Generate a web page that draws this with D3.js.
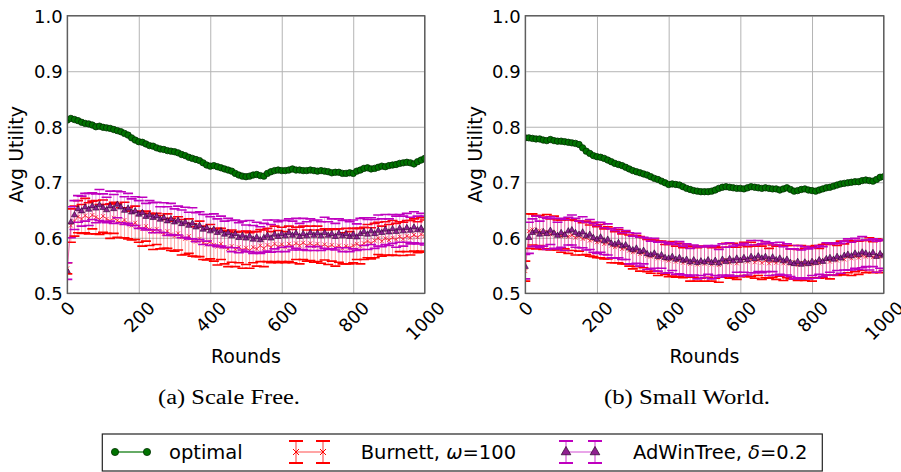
<!DOCTYPE html>
<html><head><meta charset="utf-8">
<script src="https://cdn.jsdelivr.net/npm/d3@7"></script>
<style>body{margin:0;background:#fff}svg{display:block}</style>
</head><body><svg id="c" width="901" height="472"></svg>
<script>
// ---------- DATA ----------
const rounds = d3.range(0, 1001, 10);
const yTicks = [0.5, 0.6, 0.7, 0.8, 0.9, 1.0];
const xTicks = [0, 200, 400, 600, 800, 1000];
const captions = ["(a) Scale Free.", "(b) Small World."];
const legendLabels = ["optimal", "Burnett, ", "AdWinTree, "];

// Scale Free
const sfOptimal = [
 .812,.815,.813,.811,.808,.806,.805,.803,.800,.801,
 .799,.798,.797,.795,.793,.791,.788,.785,.780,.776,
 .773,.772,.769,.766,.765,.762,.760,.759,.757,.756,
 .755,.753,.750,.748,.745,.743,.741,.739,.735,.731,
 .729,.730,.728,.726,.724,.722,.720,.716,.713,.711,
 .710,.711,.713,.714,.712,.711,.716,.719,.721,.722,
 .721,.721,.722,.724,.722,.722,.721,.721,.722,.721,
 .720,.721,.720,.719,.717,.718,.718,.716,.716,.717,
 .716,.720,.722,.725,.726,.724,.725,.727,.729,.728,
 .730,.731,.732,.734,.735,.736,.735,.733,.737,.740,
 .743];
const sfBurMean = [
 .545,.622,.630,.638,.634,.640,.635,.641,.637,.633,
 .639,.634,.630,.636,.631,.627,.632,.626,.622,.627,
 .620,.616,.621,.615,.611,.616,.610,.607,.612,.606,
 .603,.608,.601,.598,.603,.596,.593,.598,.591,.588,
 .593,.587,.584,.589,.583,.580,.585,.579,.583,.578,
 .582,.577,.583,.580,.586,.581,.587,.583,.589,.584,
 .588,.583,.589,.585,.590,.586,.591,.586,.590,.585,
 .589,.584,.588,.583,.587,.582,.586,.581,.585,.582,
 .586,.589,.585,.590,.594,.590,.595,.599,.594,.599,
 .596,.600,.597,.602,.598,.603,.600,.605,.601,.606,
 .603];
const sfBurErr = [
 .010,.030,.027,.029,.026,.031,.028,.025,.030,.027,
 .029,.026,.031,.028,.030,.027,.032,.028,.026,.030,
 .028,.031,.027,.029,.032,.028,.030,.026,.031,.029,
 .027,.030,.032,.028,.031,.029,.027,.032,.030,.028,
 .031,.029,.033,.028,.030,.032,.029,.031,.028,.033,
 .030,.032,.028,.031,.029,.033,.030,.028,.032,.029,
 .031,.028,.032,.030,.029,.033,.030,.028,.031,.029,
 .032,.030,.028,.031,.029,.033,.030,.028,.032,.029,
 .031,.028,.032,.029,.030,.028,.031,.029,.027,.030,
 .028,.031,.029,.027,.030,.028,.031,.029,.028,.030,
 .029];
const sfAdwMean = [
 .540,.628,.641,.652,.648,.655,.651,.657,.653,.659,
 .654,.650,.657,.652,.660,.655,.649,.653,.646,.648,
 .642,.645,.638,.641,.636,.639,.633,.636,.630,.634,
 .628,.631,.625,.628,.622,.626,.619,.622,.615,.618,
 .612,.615,.609,.612,.606,.609,.603,.607,.600,.604,
 .599,.603,.597,.601,.596,.600,.604,.599,.606,.602,
 .607,.603,.609,.604,.608,.602,.607,.603,.609,.604,
 .608,.603,.609,.604,.607,.602,.608,.603,.607,.602,
 .606,.601,.607,.611,.606,.612,.607,.613,.609,.615,
 .610,.616,.611,.617,.612,.618,.613,.619,.614,.617,
 .613];
const sfAdwErr = [
 .015,.028,.026,.024,.027,.025,.029,.024,.026,.028,
 .025,.023,.027,.026,.024,.028,.025,.027,.024,.026,
 .025,.028,.024,.026,.027,.025,.023,.027,.026,.028,
 .024,.026,.025,.027,.024,.028,.026,.025,.027,.024,
 .026,.028,.025,.027,.024,.026,.028,.025,.027,.026,
 .024,.028,.025,.027,.024,.026,.028,.025,.026,.027,
 .024,.028,.025,.026,.027,.024,.028,.026,.025,.027,
 .024,.026,.028,.025,.027,.024,.026,.028,.025,.027,
 .026,.024,.028,.025,.027,.024,.026,.028,.025,.027,
 .024,.026,.028,.025,.027,.026,.024,.028,.025,.027,
 .026];

// Small World
const swOptimal = [
 .780,.780,.779,.778,.778,.776,.775,.777,.775,.774,
 .774,.773,.772,.771,.770,.768,.762,.756,.752,.748,
 .746,.745,.743,.740,.737,.734,.732,.730,.727,.724,
 .721,.719,.717,.715,.713,.710,.707,.705,.702,.699,
 .696,.697,.696,.695,.692,.689,.687,.685,.684,.683,
 .683,.683,.684,.686,.689,.691,.692,.691,.690,.689,
 .689,.688,.690,.692,.691,.690,.689,.690,.689,.688,
 .688,.686,.688,.690,.687,.684,.685,.687,.688,.686,
 .685,.684,.686,.688,.690,.691,.693,.695,.697,.698,
 .699,.700,.701,.701,.703,.704,.703,.702,.705,.709,
 .710];
const swBurMean = [
 .540,.612,.615,.610,.613,.608,.611,.606,.609,.605,
 .603,.607,.602,.605,.600,.603,.598,.600,.595,.597,
 .592,.594,.589,.591,.586,.583,.585,.580,.582,.577,
 .574,.576,.571,.573,.568,.566,.568,.563,.565,.561,
 .559,.562,.557,.560,.555,.558,.553,.557,.552,.556,
 .553,.557,.552,.556,.551,.556,.560,.555,.559,.554,
 .558,.562,.557,.561,.556,.560,.555,.559,.554,.558,
 .555,.559,.554,.557,.553,.556,.551,.555,.552,.556,
 .553,.557,.554,.558,.561,.557,.562,.559,.564,.561,
 .566,.563,.567,.564,.568,.566,.569,.565,.568,.566,
 .569];
const swBurErr = [
 .018,.031,.028,.030,.027,.029,.031,.028,.030,.027,
 .029,.027,.030,.028,.031,.027,.029,.030,.028,.031,
 .028,.030,.027,.029,.031,.028,.030,.027,.029,.028,
 .030,.028,.031,.027,.029,.030,.028,.031,.029,.027,
 .029,.031,.028,.030,.027,.029,.031,.028,.030,.029,
 .031,.028,.030,.029,.031,.027,.030,.028,.031,.029,
 .028,.030,.027,.031,.029,.028,.030,.031,.027,.029,
 .030,.028,.031,.029,.027,.030,.028,.031,.029,.028,
 .031,.029,.027,.030,.028,.031,.029,.027,.030,.028,
 .029,.031,.028,.030,.027,.029,.031,.028,.030,.029,
 .028];
const swAdwMean = [
 .548,.600,.609,.612,.606,.611,.607,.613,.608,.604,
 .609,.605,.612,.614,.609,.606,.610,.603,.606,.600,
 .597,.601,.594,.597,.590,.588,.591,.585,.587,.581,
 .578,.581,.575,.577,.571,.569,.572,.566,.569,.564,
 .563,.566,.561,.564,.559,.561,.556,.560,.555,.558,
 .556,.560,.555,.559,.554,.561,.557,.562,.558,.563,
 .559,.564,.560,.566,.562,.567,.563,.566,.561,.565,
 .560,.563,.558,.561,.555,.553,.557,.552,.556,.553,
 .557,.555,.560,.557,.562,.564,.561,.566,.563,.568,
 .570,.567,.572,.569,.574,.572,.569,.573,.566,.571,
 .568];
const swAdwErr = [
 .022,.028,.025,.027,.024,.026,.028,.025,.027,.024,
 .026,.028,.025,.027,.026,.024,.028,.025,.027,.026,
 .025,.027,.024,.028,.026,.025,.027,.024,.026,.028,
 .025,.027,.026,.024,.028,.025,.027,.026,.024,.028,
 .026,.025,.027,.029,.026,.028,.025,.027,.029,.026,
 .028,.026,.029,.027,.025,.028,.026,.029,.027,.025,
 .028,.026,.027,.029,.025,.028,.026,.027,.029,.026,
 .027,.029,.026,.028,.025,.027,.029,.026,.028,.027,
 .025,.028,.026,.027,.029,.026,.028,.025,.027,.026,
 .028,.025,.027,.026,.028,.024,.027,.025,.028,.026,
 .027];

// ---------- STYLE ----------
const GREEN = "#007300", GREEN_EDGE = "#003000";
const RED = "#ff0000";
const MAG = "#bf00bf", TRI_FILL = "#8f1f8f", TRI_EDGE = "#2a002a";
const FONT = "DejaVu Sans, sans-serif";
const SERIF = "Liberation Serif, serif";
const TOP = 15.7, BOTTOM = 293.3;
const capLen = [142, 166];

const svg = d3.select("#c");

function panel(idx, left, right, yLabelX, capX, opt, burM, burE, adwM, adwE) {
  const x = d3.scaleLinear().domain([0, 1000]).range([left, right]);
  const y = d3.scaleLinear().domain([0.5, 1.0]).range([BOTTOM, TOP]);
  const g = svg.append("g");

  const ya = g.append("g").attr("transform", `translate(${left},0)`)
    .call(d3.axisLeft(y).tickValues(yTicks).tickFormat(d3.format(".1f"))
      .tickSize(-(right - left)).tickPadding(4.6));
  ya.select(".domain").remove();
  ya.selectAll("line").attr("stroke", "#b4b4b4").attr("stroke-width", 1);
  ya.selectAll("text").attr("font-family", FONT).attr("font-size", 18)
    .attr("fill", "#000").attr("dy", "0.36em");

  const xa = g.append("g").attr("transform", `translate(0,${BOTTOM})`)
    .call(d3.axisBottom(x).tickValues(xTicks).tickFormat(d3.format("d"))
      .tickSize(-(BOTTOM - TOP)));
  xa.select(".domain").remove();
  xa.selectAll("line").attr("stroke", "#b4b4b4").attr("stroke-width", 1);
  xa.selectAll("text").attr("font-family", FONT).attr("font-size", 18)
    .attr("fill", "#000").attr("text-anchor", "middle")
    .attr("y", 0).attr("dy", "0.36em")
    .attr("transform", d => {
      const w = String(d).length * 0.636 * 18, h = 13.1;
      const cy = 300 + (w + h) * 0.7071 / 2 - BOTTOM;
      return `translate(0,${cy}) rotate(-45)`;
    });

  const cid = "clip" + idx;
  svg.append("clipPath").attr("id", cid).append("rect")
    .attr("x", left).attr("y", TOP).attr("width", right - left).attr("height", BOTTOM - TOP);
  const pg = g.append("g").attr("clip-path", `url(#${cid})`);

  const lineGen = arr => d3.line().x((d, i) => x(rounds[i])).y(d => y(d))(arr);
  pg.append("path").attr("d", lineGen(opt)).attr("fill", "none")
    .attr("stroke", GREEN).attr("stroke-width", 1);
  pg.append("g").selectAll("circle").data(opt).join("circle")
    .attr("cx", (d, i) => x(rounds[i])).attr("cy", d => y(d)).attr("r", 3.2)
    .attr("fill", GREEN).attr("stroke", GREEN_EDGE).attr("stroke-width", 0.8);

  function errSeries(mean, err, col, marker) {
    const s = pg.append("g");
    s.append("g").selectAll("line").data(mean).join("line")
      .attr("x1", (d, i) => x(rounds[i])).attr("x2", (d, i) => x(rounds[i]))
      .attr("y1", (d, i) => y(d - err[i])).attr("y2", (d, i) => y(d + err[i]))
      .attr("stroke", col).attr("stroke-opacity", 0.35).attr("stroke-width", 1);
    const caps = [];
    mean.forEach((d, i) => { caps.push([rounds[i], d - err[i]]); caps.push([rounds[i], d + err[i]]); });
    s.append("g").selectAll("line").data(caps).join("line")
      .attr("x1", d => x(d[0]) - 5).attr("x2", d => x(d[0]) + 5)
      .attr("y1", d => y(d[1])).attr("y2", d => y(d[1]))
      .attr("stroke", col).attr("stroke-width", 1.6);
    s.append("path").attr("d", lineGen(mean)).attr("fill", "none")
      .attr("stroke", col).attr("stroke-opacity", 0.35).attr("stroke-width", 1);
    if (marker === "x") {
      s.append("g").selectAll("path").data(mean).join("path")
        .attr("transform", (d, i) => `translate(${x(rounds[i])},${y(d)})`)
        .attr("d", "M-2,-2L2,2M-2,2L2,-2")
        .attr("stroke", col).attr("stroke-width", 0.7).attr("fill", "none");
    } else {
      s.append("g").selectAll("path").data(mean).join("path")
        .attr("transform", (d, i) => `translate(${x(rounds[i])},${y(d)})`)
        .attr("d", d3.symbol(d3.symbolTriangle, 16)())
        .attr("fill", TRI_FILL).attr("stroke", TRI_EDGE).attr("stroke-width", 0.6);
    }
  }
  errSeries(burM, burE, RED, "x");
  errSeries(adwM, adwE, MAG, "tri");

  g.append("rect").attr("x", left).attr("y", TOP).attr("width", right - left)
    .attr("height", BOTTOM - TOP).attr("fill", "none")
    .attr("stroke", "#5a5a5a").attr("stroke-width", 1.3);

  g.append("text").attr("x", (left + right) / 2).attr("y", 362.5)
    .attr("text-anchor", "middle").attr("font-family", FONT).attr("font-size", 19)
    .text("Rounds");
  g.append("text").attr("transform", `translate(${yLabelX},${(TOP + BOTTOM) / 2}) rotate(-90)`)
    .attr("text-anchor", "middle").attr("font-family", FONT).attr("font-size", 19)
    .text("Avg Utility");
  g.append("text").attr("x", capX).attr("y", 403.5).attr("text-anchor", "middle")
    .attr("font-family", SERIF).attr("font-size", 20.5)
    .attr("textLength", capLen[idx]).attr("lengthAdjust", "spacingAndGlyphs")
    .text(captions[idx]);
}

panel(0, 67.3, 424.7, 23, 229, sfOptimal, sfBurMean, sfBurErr, sfAdwMean, sfAdwErr);
panel(1, 525.3, 883.7, 482, 687, swOptimal, swBurMean, swBurErr, swAdwMean, swAdwErr);

// ---------- LEGEND ----------
const lg = svg.append("g");
lg.append("rect").attr("x", 102.3).attr("y", 434).attr("width", 720).attr("height", 37)
  .attr("fill", "#fff").attr("stroke", "#222").attr("stroke-width", 1.2);
const LY = 452;
lg.append("line").attr("x1", 115).attr("x2", 147).attr("y1", LY).attr("y2", LY)
  .attr("stroke", GREEN).attr("stroke-width", 1.2);
[115, 147].forEach(cx => lg.append("circle").attr("cx", cx).attr("cy", LY).attr("r", 3.6)
  .attr("fill", GREEN).attr("stroke", GREEN_EDGE).attr("stroke-width", 0.8));
lg.append("text").attr("x", 169).attr("y", LY + 7).attr("font-family", FONT)
  .attr("font-size", 19.5).text(legendLabels[0]);

function legendErr(x1, x2, col, marker) {
  lg.append("line").attr("x1", x1).attr("x2", x2).attr("y1", LY).attr("y2", LY)
    .attr("stroke", col).attr("stroke-opacity", 0.55).attr("stroke-width", 1.3);
  [x1, x2].forEach(xx => {
    lg.append("line").attr("x1", xx).attr("x2", xx).attr("y1", LY - 11).attr("y2", LY + 11)
      .attr("stroke", col).attr("stroke-opacity", 0.6).attr("stroke-width", 1.3);
    [LY - 11, LY + 11].forEach(yy => lg.append("line").attr("x1", xx - 7).attr("x2", xx + 7)
      .attr("y1", yy).attr("y2", yy).attr("stroke", col).attr("stroke-width", 2));
    if (marker === "x") {
      lg.append("path").attr("transform", `translate(${xx},${LY})`)
        .attr("d", "M-3,-3L3,3M-3,3L3,-3").attr("stroke", col).attr("stroke-width", 1);
    } else {
      lg.append("path").attr("transform", `translate(${xx},${LY})`)
        .attr("d", d3.symbol(d3.symbolTriangle, 40)())
        .attr("fill", TRI_FILL).attr("stroke", TRI_EDGE).attr("stroke-width", 0.7);
    }
  });
}
legendErr(296, 323, RED, "x");
legendErr(566, 595, MAG, "tri");

const t1 = lg.append("text").attr("x", 360.7).attr("y", LY + 7).attr("font-family", FONT).attr("font-size", 19.5);
t1.append("tspan").text(legendLabels[1]);
t1.append("tspan").attr("font-style", "italic").text("ω");
t1.append("tspan").text("=100");
const t2 = lg.append("text").attr("x", 633).attr("y", LY + 7).attr("font-family", FONT).attr("font-size", 19.5);
t2.append("tspan").text(legendLabels[2]);
t2.append("tspan").attr("font-style", "italic").text("δ");
t2.append("tspan").text("=0.2");
</script>
</body></html>
